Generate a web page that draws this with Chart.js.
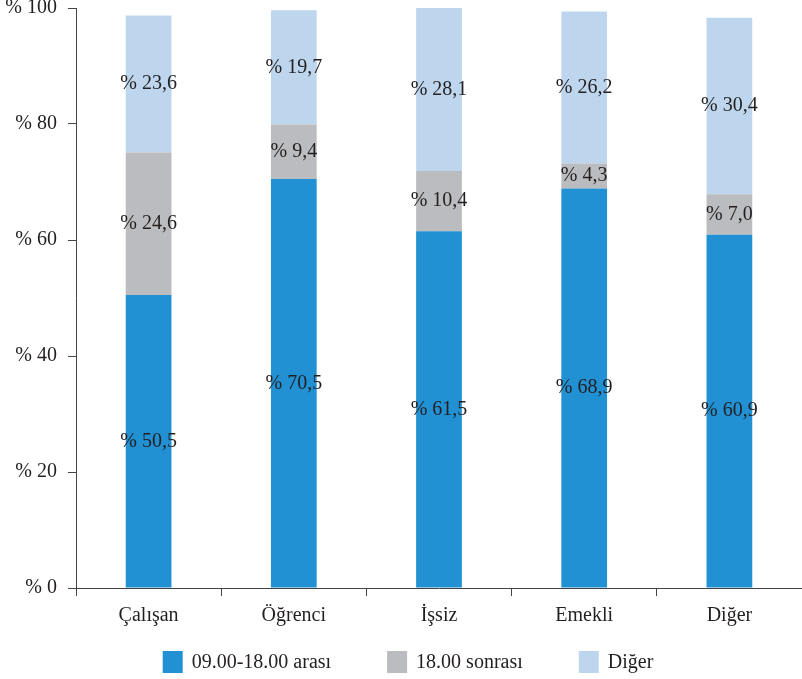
<!DOCTYPE html>
<html>
<head>
<meta charset="utf-8">
<script src="https://cdn.jsdelivr.net/npm/chart.js@4"></script>
<style>
  html, body { margin: 0; padding: 0; background: #fff; }
  #wrap { width: 802px; height: 679px; }
</style>
</head>
<body>
<div id="wrap"><canvas id="chart"></canvas></div>
<script>
const categories = ['Çalışan', 'Öğrenci', 'İşsiz', 'Emekli', 'Diğer'];
const seriesNames = ['09.00-18.00 arası', '18.00 sonrası', 'Diğer'];
const dayValues = [50.5, 70.5, 61.5, 68.9, 60.9];
const eveningValues = [24.6, 9.4, 10.4, 4.3, 7.0];
const otherValues = [23.6, 19.7, 28.1, 26.2, 30.4];
const yTicks = [0, 20, 40, 60, 80, 100];

const colors = ['#2291d3', '#bbbcbf', '#bed6ed'];
const textColor = '#231f20';
const FONT = '"Liberation Serif", "Times New Roman", serif';

function fmt(v) {
  return '% ' + v.toFixed(1).replace('.', ',');
}

// values written in the middle of each stacked segment
const segmentLabels = {
  id: 'segmentLabels',
  afterDatasetsDraw(chart) {
    const { ctx } = chart;
    ctx.save();
    ctx.font = '20px ' + FONT;
    ctx.fillStyle = textColor;
    ctx.textAlign = 'center';
    ctx.textBaseline = 'middle';
    chart.data.datasets.forEach((ds, i) => {
      chart.getDatasetMeta(i).data.forEach((bar, j) => {
        ctx.fillText(fmt(ds.data[j]), bar.x, (bar.y + bar.base) / 2);
      });
    });
    ctx.restore();
  }
};

// legend row under the axis, drawn by hand so the gaps can be wide
const bottomLegend = {
  id: 'bottomLegend',
  afterDraw(chart) {
    const { ctx } = chart;
    const box = 20, gapText = 9, gapItem = 56;
    ctx.save();
    ctx.font = '20px ' + FONT;
    const items = chart.data.datasets.map(ds => ({
      label: ds.label, color: ds.backgroundColor,
      w: box + gapText + ctx.measureText(ds.label).width
    }));
    const total = items.reduce((s, it) => s + it.w, 0) + gapItem * (items.length - 1);
    let x = 408 - total / 2;
    const y = 662;
    ctx.textBaseline = 'middle';
    ctx.textAlign = 'left';
    items.forEach(it => {
      ctx.fillStyle = it.color;
      ctx.fillRect(x, y - 11, box, 22);
      ctx.fillStyle = textColor;
      ctx.fillText(it.label, x + box + gapText, y + 1);
      x += it.w + gapItem;
    });
    ctx.restore();
  }
};

new Chart(document.getElementById('chart'), {
  type: 'bar',
  data: {
    labels: categories,
    datasets: [
      { label: seriesNames[0], data: dayValues, backgroundColor: colors[0] },
      { label: seriesNames[1], data: eveningValues, backgroundColor: colors[1] },
      { label: seriesNames[2], data: otherValues, backgroundColor: colors[2] }
    ]
  },
  options: {
    responsive: true,
    maintainAspectRatio: false,
    animation: false,
    datasets: {
      bar: { barPercentage: 0.315, categoryPercentage: 1 }
    },
    layout: { padding: { left: 4, right: 0, top: 0, bottom: 43 } },
    plugins: {
      legend: { display: false },
      tooltip: { enabled: false }
    },
    scales: {
      x: {
        stacked: true,
        border: { color: '#444', width: 1 },
        grid: { offset: true, drawOnChartArea: false, tickLength: 8, color: '#444' },
        ticks: { color: textColor, padding: 8, font: { family: FONT, size: 20 } },
        afterFit(scale) {
          scale.paddingLeft = 0;
          scale.paddingRight = 0;
        }
      },
      y: {
        stacked: true,
        min: 0,
        max: 100,
        afterBuildTicks(scale) {
          scale.ticks = yTicks.map(v => ({ value: v }));
        },
        afterFit(scale) {
          scale.width = 72;
          scale.paddingTop = 8;
          scale.paddingBottom = 0;
        },
        border: { color: '#444', width: 1 },
        grid: { drawOnChartArea: false, tickLength: 8, color: '#444' },
        ticks: {
          color: textColor,
          padding: 11,
          font: { family: FONT, size: 20 },
          callback: v => '% ' + v
        }
      }
    }
  },
  plugins: [segmentLabels, bottomLegend]
});
</script>
</body>
</html>
